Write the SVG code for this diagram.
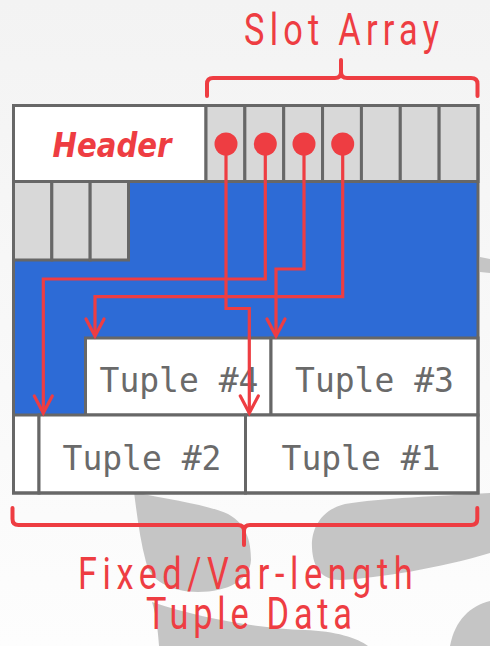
<svg xmlns="http://www.w3.org/2000/svg" width="490" height="646" viewBox="0 0 490 646">
  <defs>
    <linearGradient id="bg" x1="0" y1="0" x2="0" y2="1">
      <stop offset="0" stop-color="#f3f3f3"/>
      <stop offset="1" stop-color="#fdfdfd"/>
    </linearGradient>
    <marker id="arrow" markerUnits="userSpaceOnUse" viewBox="-20 -12 24 24" markerWidth="24" markerHeight="24" refX="0" refY="0" orient="auto">
      <path d="M-17,-9 L0,0 L-17,9" fill="none" stroke="#ee3d42" stroke-width="3.2" stroke-linecap="round" stroke-linejoin="miter"/>
    </marker>
    <style>
      .cell { fill: #d8d8d8; stroke: #676767; stroke-width: 3; }
      .box { fill: #ffffff; stroke: #676767; stroke-width: 3; }
      .wm { fill: #c5c5c5; }
      .conn { fill: none; stroke: #ee3d42; stroke-width: 3.2; }
      .dot { fill: #ee3d42; }
      .brace { fill: none; stroke: #ee3d42; stroke-width: 4; stroke-linecap: round; stroke-linejoin: round; }
      .label { fill: #ee3d42; font-family: "Roboto", "Liberation Sans", sans-serif; font-size: 44px; }
      .tuple { fill: #6a6a6a; font-family: "DejaVu Sans Mono", "Liberation Mono", monospace; font-size: 33px; text-anchor: middle; }
      .hdr { fill: #ee3d42; font-family: "DejaVu Sans", "Liberation Sans", sans-serif; font-weight: bold; font-style: italic; font-size: 33px; text-anchor: middle; }
    </style>
  </defs>

  <rect x="0" y="0" width="490" height="646" fill="url(#bg)"/>

  <g id="watermark">
    <path class="wm" d="M134,492 C170,500 205,504 228,514 C246,524 251,540 251,560 C250,580 228,592 198,592 C170,592 150,580 146,562 C140,540 137,515 134,492 Z"/>
    <path class="wm" d="M152,602 C200,618 255,628 305,630 C335,631 358,638 368,646 L159,646 C158,630 156,615 152,602 Z"/>
    <path class="wm" d="M490,493 C440,496 380,498 345,504 C320,510 311,530 312,548 C313,568 322,580 340,580 C380,578 440,568 490,553 Z"/>
    <path class="wm" d="M490,601 C470,606 455,620 450,646 L490,646 Z"/>
    <path class="wm" d="M480,257 L490,259 L490,273 L480,272 Z"/>
  </g>

  <g id="free-space">
    <rect x="13.5" y="181.5" width="464.5" height="233.5" fill="#2d6bd6"/>
  </g>

  <g id="header">
    <rect class="box" x="13.5" y="105.5" width="192.5" height="76"/>
    <text class="hdr" x="112" y="157" textLength="119" lengthAdjust="spacingAndGlyphs">Header</text>
  </g>

  <g id="slot-array">
    <rect class="cell" x="206" y="105.5" width="38.86" height="76"/>
    <rect class="cell" x="244.86" y="105.5" width="38.86" height="76"/>
    <rect class="cell" x="283.71" y="105.5" width="38.86" height="76"/>
    <rect class="cell" x="322.57" y="105.5" width="38.86" height="76"/>
    <rect class="cell" x="361.43" y="105.5" width="38.86" height="76"/>
    <rect class="cell" x="400.29" y="105.5" width="38.86" height="76"/>
    <rect class="cell" x="439.14" y="105.5" width="38.86" height="76"/>
  </g>

  <g id="slot-overflow">
    <rect class="cell" x="13.5" y="181.5" width="38.33" height="78.5"/>
    <rect class="cell" x="51.83" y="181.5" width="38.33" height="78.5"/>
    <rect class="cell" x="90.17" y="181.5" width="38.33" height="78.5"/>
  </g>

  <g id="tuple4">
    <rect class="box" x="85.5" y="338" width="185.5" height="77"/>
    <text class="tuple" x="179" y="391.5">Tuple #4</text>
  </g>
  <g id="tuple3">
    <rect class="box" x="271" y="338" width="207" height="77"/>
    <text class="tuple" x="374.5" y="391.5">Tuple #3</text>
  </g>
  <g id="spacer">
    <rect class="box" x="13.5" y="415" width="25.5" height="78"/>
  </g>
  <g id="tuple2">
    <rect class="box" x="39" y="415" width="206.5" height="78"/>
    <text class="tuple" x="142" y="469.5">Tuple #2</text>
  </g>
  <g id="tuple1">
    <rect class="box" x="245.5" y="415" width="232.5" height="78"/>
    <text class="tuple" x="361" y="469.5">Tuple #1</text>
  </g>

  <g id="page-border">
    <rect x="13.5" y="105.5" width="464.5" height="387.5" fill="none" stroke="#676767" stroke-width="3"/>
  </g>

  <g id="connectors">
    <path class="conn" d="M226,144 V308.5 H249.3 V413" marker-end="url(#arrow)"/>
    <path class="conn" d="M265.3,144 V279 H43.3 V413" marker-end="url(#arrow)"/>
    <path class="conn" d="M304,144 V269 H276 V336" marker-end="url(#arrow)"/>
    <path class="conn" d="M342.7,144 V296.7 H95 V336" marker-end="url(#arrow)"/>
    <circle class="dot" cx="226" cy="144" r="11.5"/>
    <circle class="dot" cx="265.3" cy="144" r="11.5"/>
    <circle class="dot" cx="304" cy="144" r="11.5"/>
    <circle class="dot" cx="342.7" cy="144" r="11.5"/>
  </g>

  <g id="slot-array-label">
    <path class="brace" d="M207,96 V84 Q207,78 213,78 H335 Q341,78 341,72 V60 M341,72 Q341,78 347,78 H471 Q477.5,78 477.5,84 V96"/>
    <text class="label" transform="matrix(0.78 0 0 1 244 45)" x="0" y="0" textLength="250" lengthAdjust="spacing">Slot Array</text>
  </g>

  <g id="tuple-data-label">
    <path class="brace" d="M12.5,508 V519 Q12.5,525 18.5,525 H238 Q244,525 244,531 V545 M244,531 Q244,525 250,525 H471 Q477.3,525 477.3,519 V508"/>
    <text class="label" transform="matrix(0.78 0 0 1 78 588.5)" x="0" y="0" textLength="429" lengthAdjust="spacing">Fixed/Var-length</text>
    <text class="label" transform="matrix(0.78 0 0 1 146 629)" x="0" y="0" textLength="264" lengthAdjust="spacing">Tuple Data</text>
  </g>
</svg>
